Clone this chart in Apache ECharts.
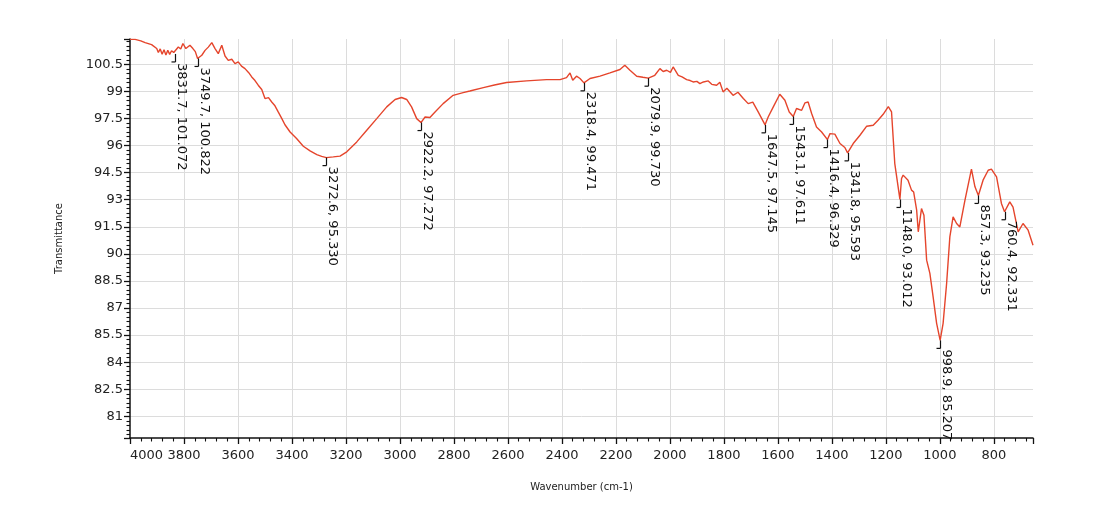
<!DOCTYPE html>
<html>
<head>
<meta charset="utf-8">
<script src="https://cdn.jsdelivr.net/npm/echarts@6/dist/echarts.min.js"></script>
<style>html,body{margin:0;padding:0;background:#fff}#c{width:1120px;height:517px}</style>
</head>
<body>
<div id="c"></div>
<script>
var wavenumbers = [4000,3981,3960,3944,3920,3901,3895,3888,3881,3874,3867,3860,3853,3846,3838,3831.7,3821,3812,3804,3793,3778,3767,3758,3749.7,3734,3722,3710,3697,3685,3673,3660,3648,3636,3623,3611,3599,3587,3574,3561,3549,3537,3525,3512,3500,3487,3475,3463,3451,3438,3426,3407,3383,3358,3333,3308,3290,3272.6,3247,3222,3197,3160,3123,3086,3049,3018,2994,2975,2957,2938,2922.2,2907,2889,2870,2840,2803,2766,2741,2691,2650,2605,2531,2457,2407,2383,2370,2360,2346,2333,2318.4,2296,2259,2222,2185,2167,2148,2123,2100,2079.9,2056,2037,2025,2012,1998,1988,1969,1955,1938,1925,1914,1900,1889,1876,1858,1845,1827,1815,1803,1789,1766,1748,1728,1710,1693,1673,1647.5,1636,1617,1593,1574,1558,1543.1,1531,1512,1500,1488,1475,1457,1438,1416.4,1407,1389,1370,1352,1341.8,1321,1296,1271,1247,1229,1210,1191,1179,1167,1148.0,1142,1136,1118,1105,1097,1086,1080,1074,1068,1059,1049,1037,1025,1012,998.9,988,975,963,951,938,926,907,883,870,857.3,840,821,809,790,772,760.4,741,729,710,692,673,655];
var transmittance = [101.88,101.88,101.80,101.70,101.59,101.37,101.15,101.35,101.05,101.30,101.02,101.28,101.05,101.25,101.15,101.072,101.46,101.35,101.65,101.37,101.55,101.37,101.20,100.822,101.00,101.27,101.45,101.70,101.37,101.09,101.55,100.96,100.72,100.78,100.54,100.63,100.40,100.26,100.05,99.80,99.60,99.34,99.10,98.60,98.65,98.41,98.20,97.86,97.50,97.15,96.75,96.39,95.96,95.70,95.50,95.40,95.33,95.37,95.41,95.65,96.20,96.85,97.49,98.14,98.55,98.66,98.55,98.14,97.49,97.272,97.58,97.55,97.86,98.32,98.78,98.93,99.02,99.21,99.35,99.49,99.58,99.65,99.65,99.76,100.02,99.61,99.84,99.71,99.471,99.71,99.84,100.02,100.21,100.45,100.17,99.84,99.78,99.73,99.89,100.26,100.10,100.17,100.05,100.35,99.89,99.80,99.65,99.60,99.52,99.55,99.43,99.52,99.58,99.39,99.34,99.50,98.97,99.17,98.78,98.95,98.60,98.32,98.40,97.86,97.145,97.58,98.14,98.84,98.51,97.86,97.611,98.05,97.95,98.36,98.41,97.77,97.03,96.75,96.329,96.66,96.63,96.11,95.89,95.593,96.11,96.57,97.07,97.12,97.40,97.73,98.16,97.86,95.00,93.012,94.17,94.36,94.08,93.53,93.42,92.42,91.22,91.31,92.51,92.14,89.65,88.92,87.62,86.15,85.207,86.15,88.36,90.94,92.05,91.68,91.49,92.97,94.69,93.71,93.235,94.08,94.63,94.69,94.26,92.79,92.331,92.88,92.59,91.22,91.68,91.31,90.48];
var peakWavenumbers = [3831.7,3749.7,3272.6,2922.2,2318.4,2079.9,1647.5,1543.1,1416.4,1341.8,1148.0,998.9,857.3,760.4];
var peakValues = [101.072,100.822,95.330,97.272,99.471,99.730,97.145,97.611,96.329,95.593,93.012,85.207,93.235,92.331];

var lineData = wavenumbers.map(function(w,i){return [w, transmittance[i]];});
var peakData = peakWavenumbers.map(function(w,i){return [w, peakValues[i]];});

var FONT = 'DejaVu Sans';
var chart = echarts.init(document.getElementById('c'), null, {renderer:'canvas'});
chart.setOption({
  animation:false,
  backgroundColor:'#fff',
  grid:{left:130, right:87, top:39, bottom:79, containLabel:false},
  xAxis:{
    type:'value', inverse:true, min:655, max:4000,
    minInterval:200, maxInterval:200, splitNumber:17,
    name:'Wavenumber (cm-1)', nameLocation:'middle', nameGap:44,
    nameTextStyle:{fontFamily:FONT, fontSize:10, color:'#222'},
    axisLine:{show:true, onZero:false, lineStyle:{color:'#111', width:1.5}},
    axisTick:{show:true, length:6, lineStyle:{color:'#111', width:1.3}},
    minorTick:{show:true, splitNumber:5, length:3.5, lineStyle:{color:'#111', width:1.1}},
    axisLabel:{fontFamily:FONT, fontSize:13, color:'#222', margin:11, interval:0, hideOverlap:false,
      showMinLabel:false, showMaxLabel:true, alignMaxLabel:'left',
      formatter:function(v){return String(Math.round(v));}},
    splitLine:{show:true, showMinLine:false, showMaxLine:false, lineStyle:{color:'#dcdcdc', width:1}}
  },
  yAxis:{
    type:'value', min:79.8, max:101.9,
    minInterval:1.5, maxInterval:1.5, splitNumber:15,
    name:'Transmittance', nameLocation:'middle', nameGap:66,
    nameTextStyle:{fontFamily:FONT, fontSize:10, color:'#222'},
    axisLine:{show:true, onZero:false, lineStyle:{color:'#111', width:1.5}},
    axisTick:{show:true, length:6, lineStyle:{color:'#111', width:1.3}},
    minorTick:{show:true, splitNumber:6, length:3.5, lineStyle:{color:'#111', width:1.1}},
    axisLabel:{fontFamily:FONT, fontSize:13, color:'#222', margin:7, showMinLabel:false, showMaxLabel:false},
    splitLine:{show:true, showMinLine:false, showMaxLine:false, lineStyle:{color:'#dcdcdc', width:1}}
  },
  series:[
    {
      type:'line', data:lineData, showSymbol:false, symbol:'none',
      lineStyle:{color:'#e5452c', width:1.4}, clip:true, z:3
    },
    {
      type:'custom', data:peakData, z:4,
      renderItem:function(params, api){
        var p = api.coord([api.value(0), api.value(1)]);
        var x = Math.round(p[0]) + 0.5, y = p[1];
        var txt = api.value(0).toFixed(1) + ', ' + api.value(1).toFixed(3);
        return {
          type:'group',
          children:[
            {type:'line', shape:{x1:x, y1:y, x2:x, y2:y+8}, style:{stroke:'#111', lineWidth:1.2}},
            {type:'line', shape:{x1:x-4, y1:y+8, x2:x, y2:y+8}, style:{stroke:'#111', lineWidth:1.2}},
            {type:'text', x:x-1, y:y+9, rotation:-Math.PI/2,
             style:{text:txt, fontFamily:FONT, fontSize:13, fill:'#111', align:'left', verticalAlign:'bottom'}}
          ]
        };
      }
    }
  ]
});
</script>
</body>
</html>
